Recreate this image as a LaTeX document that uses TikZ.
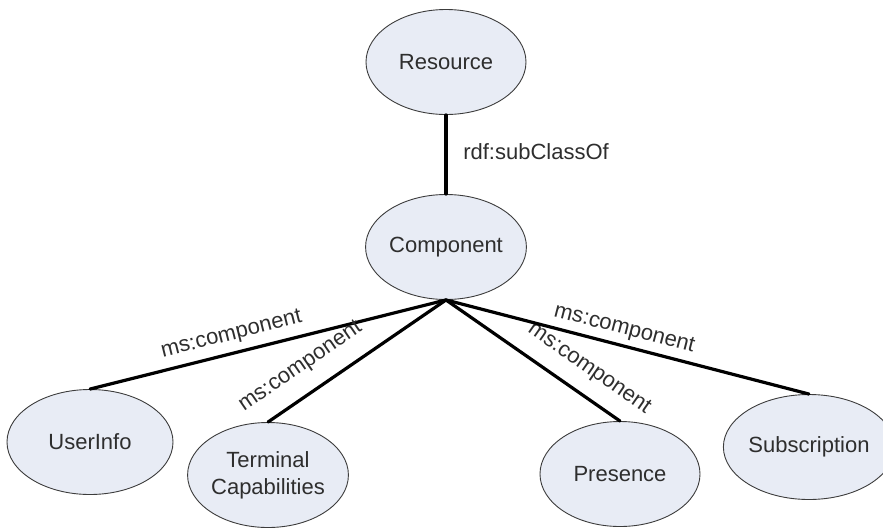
\documentclass[tikz,border=0pt]{standalone}
\usepackage{fontspec}
\setmainfont{Liberation Sans}
\usetikzlibrary{shapes.geometric}
\definecolor{classfill}{HTML}{E8ECF5}
\definecolor{classedge}{HTML}{3C3C3C}
\definecolor{labeltext}{HTML}{2E2E2E}
\begin{document}
\begin{tikzpicture}[x=1pt,y=-1pt,
  class/.style={ellipse, draw=classedge, line width=0.9pt, fill=classfill,
    minimum width=#1*2pt, minimum height=105pt, inner sep=0pt,
    text=labeltext, font=\fontsize{22}{27}\selectfont, align=center},
  class/.default=80,
  link/.style={line width=3.2pt, line cap=round},
  rel/.style={text=labeltext, font=\fontsize{22}{25}\selectfont, inner sep=0pt}]
\useasboundingbox (0,0) rectangle (883,528);

% classes
\node[class]     (res)  at (446,62)  {Resource};
\node[class]     (comp) at (446,247) {Component};
\node[class=83]  (user) at (90,442)  {UserInfo};
\node[class]     (term) at (268,475) {Terminal\\Capabilities};
\node[class]     (pres) at (620,474) {Presence};
\node[class=74]  (subs) at (809,447) {Subscription};

% subclass relation
\draw[link] (res.south) -- (comp.north);
\node[rel] (sublbl) at (536,152) {rdf:subClassOf};

% component relations
\draw[link] (user.north) -- node[rel, pos=0.41, sloped, above=7pt] (l1) {ms:component} (comp.south);
\draw[link] (term.north) -- node[rel, pos=0.27, sloped, above=16pt] (l2) {ms:component} (comp.south);
\draw[link] (comp.south) -- node[rel, pos=0.74, sloped, above=14pt] (l3) {ms:component} (pres.north);
\draw[link] (comp.south) -- node[rel, pos=0.48, sloped, above=5pt] (l4) {ms:component} (subs.north);
\end{tikzpicture}
\end{document}
